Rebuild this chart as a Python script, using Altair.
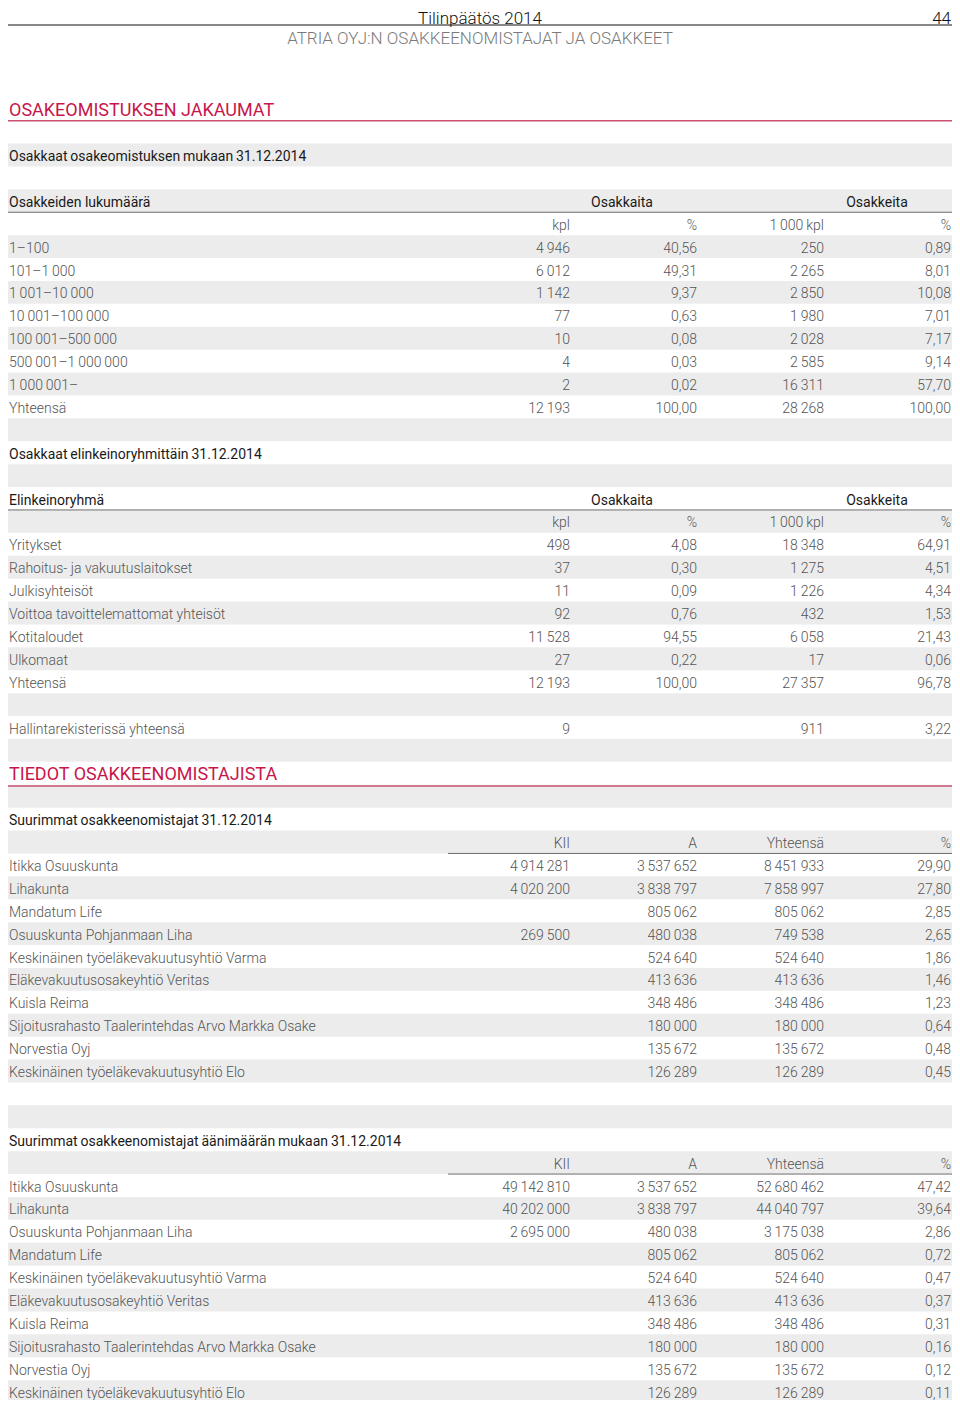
import altair as alt
import pandas as pd

# ---------------- texts & data ----------------
page_title = "Tilinpäätös 2014"
page_number = "44"
page_subtitle = "ATRIA OYJ:N OSAKKEENOMISTAJAT JA OSAKKEET"

heading1 = "OSAKEOMISTUKSEN JAKAUMAT"
heading2 = "TIEDOT OSAKKEENOMISTAJISTA"

group_heads = ["Osakkaita", "Osakkeita"]
unit_heads = ["kpl", "%", "1 000 kpl", "%"]

t1_title = "Osakkaat osakeomistuksen mukaan 31.12.2014"
t1_head = "Osakkeiden lukumäärä"
t1_labels = ["1–100", "101–1 000", "1 001–10 000", "10 001–100 000",
             "100 001–500 000", "500 001–1 000 000", "1 000 001–", "Yhteensä"]
t1_holders = ["4 946", "6 012", "1 142", "77", "10", "4", "2", "12 193"]
t1_holders_pct = ["40,56", "49,31", "9,37", "0,63", "0,08", "0,03", "0,02", "100,00"]
t1_shares = ["250", "2 265", "2 850", "1 980", "2 028", "2 585", "16 311", "28 268"]
t1_shares_pct = ["0,89", "8,01", "10,08", "7,01", "7,17", "9,14", "57,70", "100,00"]

t2_title = "Osakkaat elinkeinoryhmittäin 31.12.2014"
t2_head = "Elinkeinoryhmä"
t2_labels = ["Yritykset", "Rahoitus- ja vakuutuslaitokset", "Julkisyhteisöt",
             "Voittoa tavoittelemattomat yhteisöt", "Kotitaloudet", "Ulkomaat", "Yhteensä"]
t2_holders = ["498", "37", "11", "92", "11 528", "27", "12 193"]
t2_holders_pct = ["4,08", "0,30", "0,09", "0,76", "94,55", "0,22", "100,00"]
t2_shares = ["18 348", "1 275", "1 226", "432", "6 058", "17", "27 357"]
t2_shares_pct = ["64,91", "4,51", "4,34", "1,53", "21,43", "0,06", "96,78"]
nominee_label = "Hallintarekisterissä yhteensä"
nominee_values = ["9", "", "911", "3,22"]

owner_heads = ["KII", "A", "Yhteensä", "%"]

t3_title = "Suurimmat osakkeenomistajat 31.12.2014"
t3_names = ["Itikka Osuuskunta", "Lihakunta", "Mandatum Life", "Osuuskunta Pohjanmaan Liha",
            "Keskinäinen työeläkevakuutusyhtiö Varma", "Eläkevakuutusosakeyhtiö Veritas",
            "Kuisla Reima", "Sijoitusrahasto Taalerintehdas Arvo Markka Osake",
            "Norvestia Oyj", "Keskinäinen työeläkevakuutusyhtiö Elo"]
t3_kii = ["4 914 281", "4 020 200", "", "269 500", "", "", "", "", "", ""]
t3_a = ["3 537 652", "3 838 797", "805 062", "480 038", "524 640", "413 636",
        "348 486", "180 000", "135 672", "126 289"]
t3_total = ["8 451 933", "7 858 997", "805 062", "749 538", "524 640", "413 636",
            "348 486", "180 000", "135 672", "126 289"]
t3_pct = ["29,90", "27,80", "2,85", "2,65", "1,86", "1,46", "1,23", "0,64", "0,48", "0,45"]

t4_title = "Suurimmat osakkeenomistajat äänimäärän mukaan 31.12.2014"
t4_names = ["Itikka Osuuskunta", "Lihakunta", "Osuuskunta Pohjanmaan Liha", "Mandatum Life",
            "Keskinäinen työeläkevakuutusyhtiö Varma", "Eläkevakuutusosakeyhtiö Veritas",
            "Kuisla Reima", "Sijoitusrahasto Taalerintehdas Arvo Markka Osake",
            "Norvestia Oyj", "Keskinäinen työeläkevakuutusyhtiö Elo"]
t4_kii = ["49 142 810", "40 202 000", "2 695 000", "", "", "", "", "", "", ""]
t4_a = ["3 537 652", "3 838 797", "480 038", "805 062", "524 640", "413 636",
        "348 486", "180 000", "135 672", "126 289"]
t4_total = ["52 680 462", "44 040 797", "3 175 038", "805 062", "524 640", "413 636",
            "348 486", "180 000", "135 672", "126 289"]
t4_pct = ["47,42", "39,64", "2,86", "0,72", "0,47", "0,37", "0,31", "0,16", "0,12", "0,11"]

# ---------------- table assembly ----------------
NUMCOLS = ["c1", "c2", "c3", "c4"]
cells = []
rules = []


def fmt(s):
    return s.replace(" ", "\u2009") if any(ch.isdigit() for ch in s) else s


def add(row, col, text, kind):
    if text != "":
        cells.append({"row": row, "col": col, "text": fmt(text), "kind": kind})


def add_numrow(row, values, kind="body"):
    for c, v in zip(NUMCOLS, values):
        add(row, c, v, kind)


add(-2, "label", heading1, "heading")
rules.append({"pos": -1.5, "kind": "red"})

# table 1
add(0, "label", t1_title, "bold")
add(2, "label", t1_head, "bold")
add(2, "g1", group_heads[0], "bold")
add(2, "g2", group_heads[1], "bold")
rules.append({"pos": 2.5, "kind": "full"})
add_numrow(3, unit_heads)
for i, lab in enumerate(t1_labels):
    r = 4 + i
    add(r, "label", lab, "body")
    add_numrow(r, [t1_holders[i], t1_holders_pct[i], t1_shares[i], t1_shares_pct[i]])

# table 2
add(13, "label", t2_title, "bold")
add(15, "label", t2_head, "bold")
add(15, "g1", group_heads[0], "bold")
add(15, "g2", group_heads[1], "bold")
rules.append({"pos": 15.5, "kind": "full"})
add_numrow(16, unit_heads)
for i, lab in enumerate(t2_labels):
    r = 17 + i
    add(r, "label", lab, "body")
    add_numrow(r, [t2_holders[i], t2_holders_pct[i], t2_shares[i], t2_shares_pct[i]])
add(25, "label", nominee_label, "body")
add_numrow(25, nominee_values)

add(27, "label", heading2, "heading")
rules.append({"pos": 27.55, "kind": "red"})

# table 3
add(29, "label", t3_title, "bold")
add_numrow(30, owner_heads)
rules.append({"pos": 30.5, "kind": "part"})
for i, nm in enumerate(t3_names):
    r = 31 + i
    add(r, "label", nm, "body")
    add_numrow(r, [t3_kii[i], t3_a[i], t3_total[i], t3_pct[i]])

# table 4
add(43, "label", t4_title, "bold")
add_numrow(44, owner_heads)
rules.append({"pos": 44.5, "kind": "part"})
for i, nm in enumerate(t4_names):
    r = 45 + i
    add(r, "label", nm, "body")
    add_numrow(r, [t4_kii[i], t4_a[i], t4_total[i], t4_pct[i]])

N_ROWS = 55
cells_df = pd.DataFrame(cells)
rules_df = pd.DataFrame(rules)
stripes_df = pd.DataFrame({"top": [r - 0.5 for r in range(0, N_ROWS, 2)],
                           "bot": [r + 0.5 for r in range(0, N_ROWS, 2)]})

# ---------------- layout ----------------
W, H = 944, 1392
ROW0 = 147.0
ROW_H = 22.9
FONT = "Roboto"
yscale = alt.Scale(domain=[-0.5, N_ROWS - 0.5],
                   range=[ROW0 - 0.5 * ROW_H, ROW0 + (N_ROWS - 0.5) * ROW_H],
                   zero=False, nice=False)

COL_X = {"label": 1, "c1": 562, "c2": 689, "c3": 816, "c4": 943, "g1": 614, "g2": 869}
BODY = "#555555"
DARK = "#1a1a1a"
RED = "#c8164a"
TXT_DY = 2

stripes = alt.Chart(stripes_df).mark_rect(color="#ececec").encode(
    y=alt.Y("top:Q", scale=yscale, axis=None), y2="bot:Q",
    x=alt.value(0), x2=alt.value(W))

rule_full = alt.Chart(rules_df).transform_filter(alt.datum.kind == "full").mark_rule(
    color="#6e6e6e", strokeWidth=1).encode(
    y=alt.Y("pos:Q", scale=yscale, axis=None), x=alt.value(0), x2=alt.value(W))
rule_part = alt.Chart(rules_df).transform_filter(alt.datum.kind == "part").mark_rule(
    color="#6e6e6e", strokeWidth=1).encode(
    y=alt.Y("pos:Q", scale=yscale, axis=None), x=alt.value(440), x2=alt.value(W))
rule_red = alt.Chart(rules_df).transform_filter(alt.datum.kind == "red").mark_rule(
    color="#c9506f", strokeWidth=1.5).encode(
    y=alt.Y("pos:Q", scale=yscale, axis=None), x=alt.value(0), x2=alt.value(W))


def text_layer(cols, kind, align, color, size, weight):
    layers = []
    for c in cols:
        layers.append(
            alt.Chart(cells_df)
            .transform_filter(alt.datum.col == c)
            .transform_filter(alt.datum.kind == kind)
            .mark_text(align=align, baseline="middle", font=FONT, fontSize=size,
                       fontWeight=weight, color=color, dy=TXT_DY)
            .encode(y=alt.Y("row:Q", scale=yscale, axis=None), x=alt.value(COL_X[c]),
                    text="text:N")
        )
    return layers


txt = []
txt += text_layer(["label"], "body", "left", BODY, 14, 300)
txt += text_layer(["label"], "bold", "left", DARK, 14, 400)
txt += text_layer(["label"], "heading", "left", RED, 18, 400)
txt += text_layer(NUMCOLS, "body", "right", BODY, 14, 300)
txt += text_layer(["g1", "g2"], "bold", "center", DARK, 14, 400)

# page header
hdr_df = pd.DataFrame({"t": [page_title], "n": [page_number], "s": [page_subtitle]})
title_t = alt.Chart(hdr_df).mark_text(align="center", baseline="alphabetic", font=FONT,
                                      fontSize=17, fontWeight=300, color="#111111").encode(
    x=alt.value(472), y=alt.value(16), text="t:N")
number_t = alt.Chart(hdr_df).mark_text(align="right", baseline="alphabetic", font=FONT,
                                       fontSize=17, fontWeight=300, color="#111111").encode(
    x=alt.value(943), y=alt.value(16), text="n:N")
sub_t = alt.Chart(hdr_df).mark_text(align="center", baseline="alphabetic", font=FONT,
                                    fontSize=17, fontWeight=300, color="#7a7a7a").encode(
    x=alt.value(472), y=alt.value(35.5), text="s:N")
title_rule = alt.Chart(hdr_df).mark_rule(color="#111111", strokeWidth=1).encode(
    y=alt.value(17), x=alt.value(0), x2=alt.value(W))

chart = alt.layer(stripes, rule_full, rule_part, rule_red, *txt,
                  title_t, number_t, sub_t, title_rule).properties(
    width=W, height=H, padding=0, background="white",
    autosize=alt.AutoSizeParams(type="none"),
).configure_view(stroke="transparent", strokeWidth=0)

chart.save("out.html", embed_options={"renderer": "svg", "actions": False})
